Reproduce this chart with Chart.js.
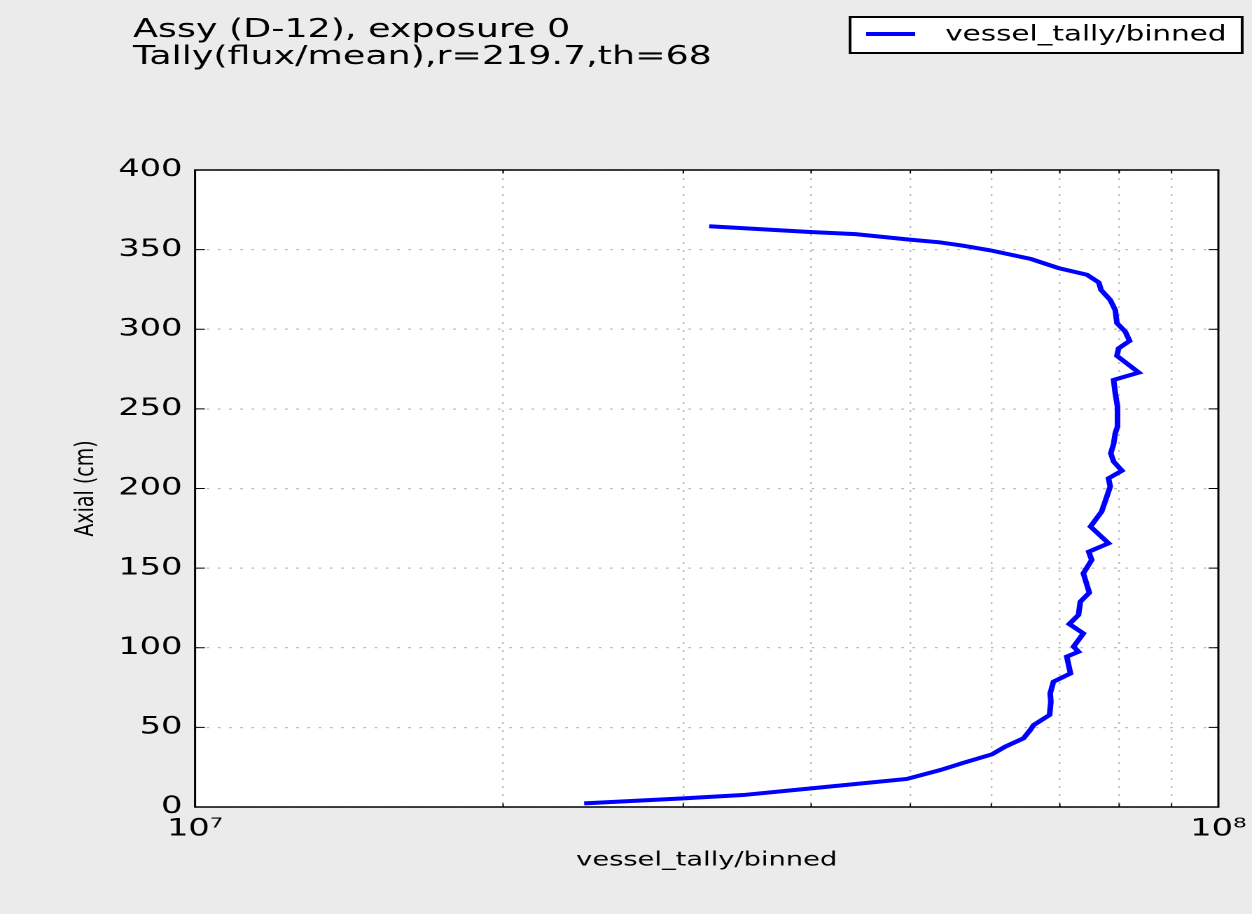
<!DOCTYPE html>
<html>
<head>
<meta charset="utf-8">
<title>vessel_tally/binned</title>
<script src="https://cdn.jsdelivr.net/npm/chart.js@4.4.0/dist/chart.umd.min.js"></script>
<style>
  html, body { margin: 0; padding: 0; background: #ebebeb; overflow: hidden; }
  /* the reference figure is a horizontally stretched render, so draw narrow and stretch */
  #wrap { width: 894px; height: 914px; transform: scaleX(1.4004); transform-origin: 0 0; }
</style>
</head>
<body>
<div id="wrap"><canvas id="fluxChart"></canvas></div>
<script>
// Axial position (cm) and binned vessel tally flux
const axialCm = [2.3, 5.4, 7.5, 11.7, 17.6, 23.2, 27.8, 33.1, 37.9, 43.1, 48.4, 51.5, 57.8, 66.0,
  71.4, 78.7, 83.9, 94.4, 97.5, 100.7, 109.0, 114.9, 120.6, 128.9, 134.6, 146.7, 155.1, 160.3,
  165.6, 176.1, 185.5, 194.9, 201.2, 206.4, 211.2, 216.9, 222.1, 228.0, 234.7, 238.9, 251.4,
  259.8, 268.2, 272.8, 283.3, 288.0, 292.7, 298.5, 303.8, 312.0, 318.4, 324.7, 329.4, 334.2,
  338.4, 344.1, 349.6, 352.5, 354.6, 356.3, 359.7, 361.1, 364.7];
const fluxValues = [2.40e7, 3.00e7, 3.43e7, 4.00e7, 4.96e7, 5.35e7, 5.64e7, 6.01e7, 6.19e7, 6.45e7,
  6.55e7, 6.60e7, 6.84e7, 6.86e7, 6.85e7, 6.90e7, 7.17e7, 7.11e7, 7.30e7, 7.22e7, 7.38e7, 7.15e7,
  7.30e7, 7.33e7, 7.48e7, 7.38e7, 7.52e7, 7.47e7, 7.81e7, 7.50e7, 7.69e7, 7.78e7, 7.84e7, 7.81e7,
  8.05e7, 7.90e7, 7.85e7, 7.90e7, 7.93e7, 7.97e7, 7.97e7, 7.93e7, 7.90e7, 8.36e7, 7.96e7, 7.99e7,
  8.19e7, 8.11e7, 7.96e7, 7.93e7, 7.84e7, 7.68e7, 7.64e7, 7.44e7, 6.98e7, 6.56e7, 5.98e7, 5.63e7,
  5.34e7, 4.99e7, 4.42e7, 3.99e7, 3.18e7];

const titleLines = ['Assy (D-12), exposure 0', 'Tally(flux/mean),r=219.7,th=68'];
const seriesLabel = 'vessel_tally/binned';
const xLabel = 'vessel_tally/binned';
const yLabel = 'Axial (cm)';
const yMin = 0, yMax = 400, yStep = 50;
const xMin = 1e7, xMax = 1e8;
// log axis: decades labelled, 2..9 x 10^7 only get grid lines
const xTickValues = [1e7, 2e7, 3e7, 4e7, 5e7, 6e7, 7e7, 8e7, 9e7, 1e8];

const FONT = '"DejaVu Sans", sans-serif';
const LINE_BLUE = '#0000ff';

const points = axialCm.map((y, i) => ({ x: fluxValues[i], y: y }));

function isDecade(v) {
  const e = Math.log10(v);
  return Math.abs(e - Math.round(e)) < 1e-9;
}

function decadeLabel(v) {
  const sup = { '0': '⁰', '1': '¹', '2': '²', '3': '³', '4': '⁴', '5': '⁵', '6': '⁶', '7': '⁷', '8': '⁸', '9': '⁹' };
  const e = String(Math.round(Math.log10(v)));
  return '10' + e.split('').map(c => sup[c]).join('');
}

// background, frame, inner ticks, title and legend box
const framePlugin = {
  id: 'frame',
  beforeDraw(chart) {
    const { ctx, chartArea: a, width, height } = chart;
    ctx.save();
    ctx.fillStyle = '#ebebeb';
    ctx.fillRect(0, 0, width, height);
    ctx.fillStyle = '#ffffff';
    ctx.fillRect(a.left, a.top, a.right - a.left, a.bottom - a.top);
    ctx.restore();
  },
  afterDraw(chart) {
    const { ctx, chartArea: a } = chart;
    const xs = chart.scales.x, ys = chart.scales.y;
    ctx.save();

    // tick marks pointing into the axes
    ctx.strokeStyle = '#000';
    ctx.lineWidth = 1;
    ys.ticks.forEach(t => {
      const py = ys.getPixelForValue(t.value);
      ctx.beginPath();
      ctx.moveTo(a.left, py); ctx.lineTo(a.left + 7, py);
      ctx.moveTo(a.right, py); ctx.lineTo(a.right - 7, py);
      ctx.stroke();
    });
    xs.ticks.forEach(t => {
      const px = xs.getPixelForValue(t.value);
      const len = isDecade(t.value) ? 7 : 3.5;
      ctx.beginPath();
      ctx.moveTo(px, a.bottom); ctx.lineTo(px, a.bottom - len);
      ctx.moveTo(px, a.top); ctx.lineTo(px, a.top + len);
      ctx.stroke();
    });

    // frame
    ctx.lineWidth = 1.5;
    ctx.strokeRect(a.left, a.top, a.right - a.left, a.bottom - a.top);

    // title, top left
    ctx.fillStyle = '#000';
    ctx.font = '26px ' + FONT;
    ctx.textAlign = 'left';
    ctx.textBaseline = 'alphabetic';
    ctx.fillText(titleLines[0], 95, 37);
    ctx.fillText(titleLines[1], 95, 64);

    // legend
    ctx.fillStyle = '#ffffff';
    ctx.fillRect(607, 17, 280, 36);
    ctx.lineWidth = 2;
    ctx.strokeStyle = '#000';
    ctx.strokeRect(607, 17, 280, 36);
    ctx.strokeStyle = LINE_BLUE;
    ctx.lineWidth = 4;
    ctx.beginPath();
    ctx.moveTo(618.5, 34); ctx.lineTo(653.5, 34);
    ctx.stroke();
    ctx.fillStyle = '#000';
    ctx.font = '21px ' + FONT;
    ctx.textBaseline = 'middle';
    ctx.fillText(seriesLabel, 675, 35);

    ctx.restore();
  }
};

const ctx = document.getElementById('fluxChart');
new Chart(ctx, {
  type: 'scatter',
  data: {
    datasets: [{
      label: seriesLabel,
      data: points,
      showLine: true,
      borderColor: LINE_BLUE,
      backgroundColor: LINE_BLUE,
      borderWidth: 4,
      pointRadius: 0,
      tension: 0,
      fill: false
    }]
  },
  options: {
    responsive: true,
    maintainAspectRatio: false,
    animation: false,
    devicePixelRatio: 2,
    layout: { padding: { top: 170, right: 24, bottom: 0, left: 0 } },
    scales: {
      x: {
        type: 'logarithmic',
        min: xMin,
        max: xMax,
        afterBuildTicks: s => { s.ticks = xTickValues.map(v => ({ value: v, major: isDecade(v) })); },
        afterFit: s => { s.height = 107; s.paddingLeft = 0; s.paddingRight = 0; },
        grid: { color: '#bdbdbd', lineWidth: 1.2, drawTicks: false },
        border: { display: false, dash: [2, 6] },
        ticks: {
          autoSkip: false,
          maxRotation: 0,
          padding: 8,
          color: '#000',
          font: { family: FONT, size: 24 },
          callback: v => isDecade(v) ? decadeLabel(v) : ''
        },
        title: {
          display: true,
          text: xLabel,
          color: '#000',
          font: { family: FONT, size: 19.5 },
          padding: { top: 0, bottom: 42 }
        }
      },
      y: {
        min: yMin,
        max: yMax,
        afterFit: s => { s.width = 139.3; s.paddingTop = 0; s.paddingBottom = 0; },
        grid: { color: '#bdbdbd', lineWidth: 1.2, drawTicks: false },
        border: { display: false, dash: [2, 6] },
        ticks: {
          stepSize: yStep,
          padding: 9,
          color: '#000',
          font: { family: FONT, size: 24 }
        },
        title: {
          display: true,
          text: yLabel,
          color: '#000',
          font: { family: FONT, size: 19 },
          padding: { top: 50, bottom: 0 }
        }
      }
    },
    plugins: {
      legend: { display: false },
      tooltip: { enabled: false }
    }
  },
  plugins: [framePlugin]
});
</script>
</body>
</html>
